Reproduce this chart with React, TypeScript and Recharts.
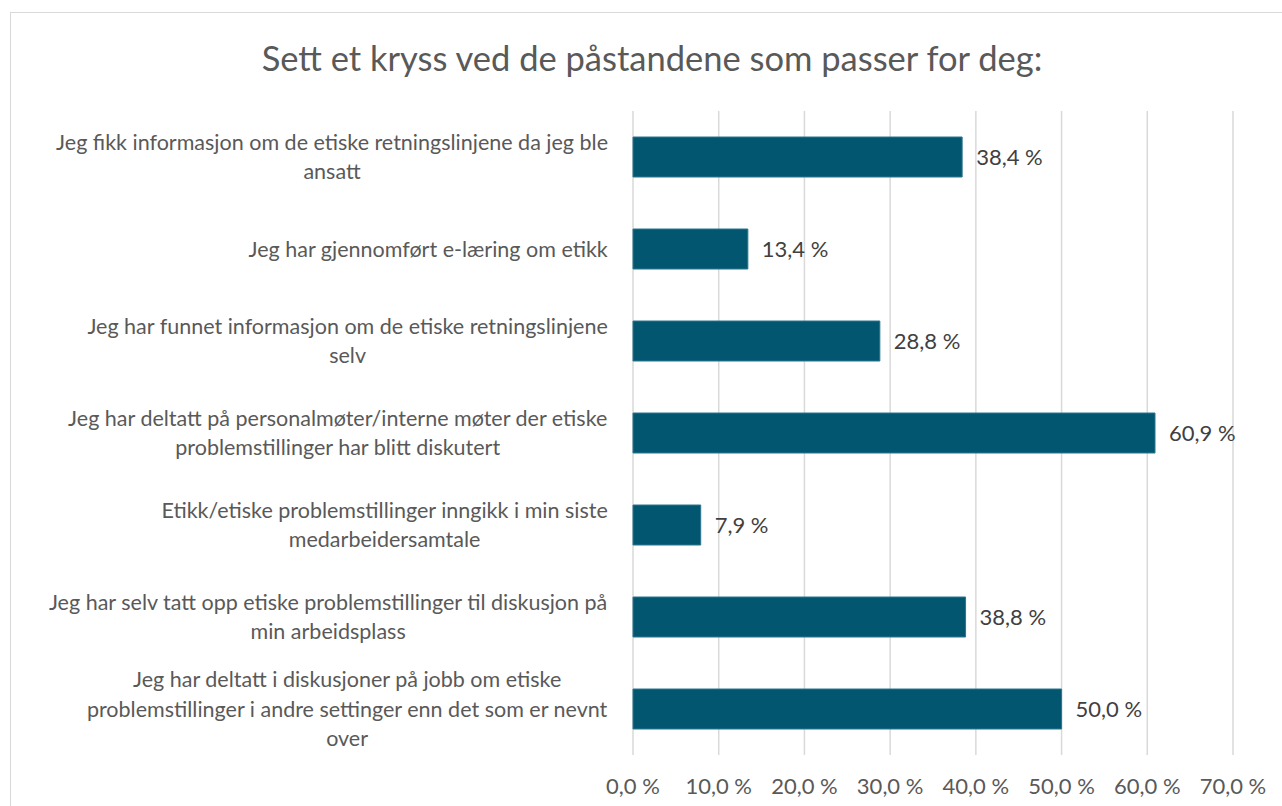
import React from "react";
import { BarChart, Bar, XAxis, YAxis, CartesianGrid, LabelList } from "recharts";

const categories: string[][] = [
  ["Jeg fikk informasjon om de etiske retningslinjene da jeg ble", "ansatt"],
  ["Jeg har gjennomført e-læring om etikk"],
  ["Jeg har funnet informasjon om de etiske retningslinjene", "selv"],
  ["Jeg har deltatt på personalmøter/interne møter der etiske", "problemstillinger har blitt diskutert"],
  ["Etikk/etiske problemstillinger inngikk i min siste", "medarbeidersamtale"],
  ["Jeg har selv tatt opp etiske problemstillinger til diskusjon på", "min arbeidsplass"],
  [
    "Jeg har deltatt i diskusjoner på jobb om etiske",
    "problemstillinger i andre settinger enn det som er nevnt",
    "over",
  ],
];

const values = [38.4, 13.4, 28.8, 60.9, 7.9, 38.8, 50.0];
const xTicks = [0, 10, 20, 30, 40, 50, 60, 70];

const FONT = "Lato, 'Open Sans', sans-serif";
const LABEL_SIZE = 21.5;

const data = categories.map((lines, i) => ({ name: lines.join("\n"), value: values[i] }));

const fmt = (v: number) => v.toFixed(1).replace(".", ",") + " %";

let ctx: CanvasRenderingContext2D | null = null;
const measure = (s: string) => {
  if (!ctx) ctx = document.createElement("canvas").getContext("2d");
  if (!ctx) return s.length * 10;
  ctx.font = `${LABEL_SIZE}px Lato`;
  return ctx.measureText(s).width;
};

// wrapped category label: lines centred inside a block that is right-aligned to the axis
const CategoryTick = (props: any) => {
  const { x, y, payload } = props;
  const lines: string[] = String(payload.value).split("\n");
  const maxW = Math.max(...lines.map(measure));
  const cx = x - 17 - maxW / 2;
  const lh = 29.5;
  const top = y - ((lines.length - 1) * lh) / 2;
  return (
    <text textAnchor="middle" fontFamily={FONT} fontSize={LABEL_SIZE} fill="#595959">
      {lines.map((l, i) => (
        <tspan key={i} x={cx} y={top + i * lh} dy="0.35em">
          {l}
        </tspan>
      ))}
    </text>
  );
};

export default function App() {
  return (
    <div style={{ position: "absolute", left: 0, top: 0, width: 1282, height: 806, background: "#fff", overflow: "hidden" }}>
      <div
        style={{
          position: "absolute",
          left: 10,
          top: 12,
          width: 1300,
          height: 820,
          border: "1.5px solid #d9d9d9",
        }}
      />
      <div
        style={{
          position: "absolute",
          top: 37,
          left: 0,
          width: 1304,
          textAlign: "center",
          fontFamily: FONT,
          fontSize: 34.5,
          color: "#595959",
        }}
      >
        Sett et kryss ved de påstandene som passer for deg:
      </div>
      <div style={{ position: "absolute", left: 0, top: 0 }}>
        <BarChart
          width={1282}
          height={806}
          data={data}
          layout="vertical"
          margin={{ top: 111, right: 49, bottom: 0, left: 0 }}
          barSize={40}
        >
          <CartesianGrid horizontal={false} stroke="#d9d9d9" strokeWidth={1.5} />
          <XAxis
            type="number"
            domain={[0, 70]}
            ticks={xTicks}
            height={51}
            axisLine={false}
            tickLine={false}
            tickMargin={17}
            tickFormatter={fmt}
            tick={{ fontFamily: FONT, fontSize: 22, fill: "#595959" }}
          />
          <YAxis
            type="category"
            dataKey="name"
            width={633}
            axisLine={false}
            tickLine={false}
            tick={<CategoryTick />}
            interval={0}
          />
          <Bar dataKey="value" fill="#03566f" stroke="#2a7690" strokeWidth={1} isAnimationActive={false}>
            <LabelList
              dataKey="value"
              position="right"
              offset={14}
              formatter={(v: any) => fmt(Number(v))}
              style={{ fontFamily: FONT, fontSize: 22, fill: "#404040" }}
            />
          </Bar>
        </BarChart>
      </div>
    </div>
  );
}
